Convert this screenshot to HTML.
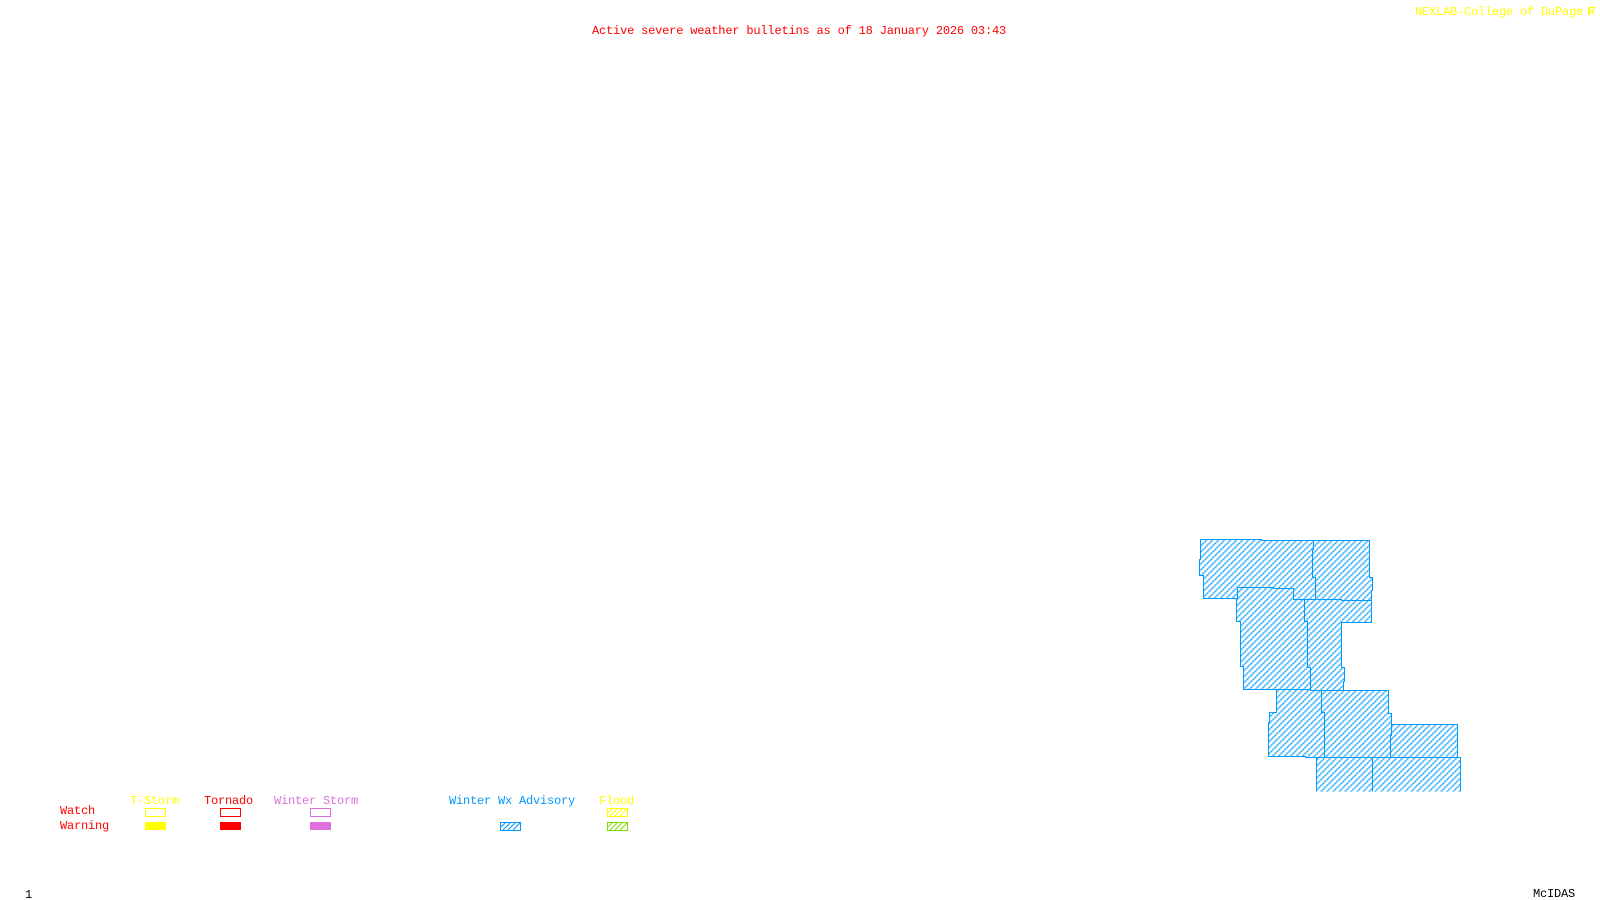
<!DOCTYPE html>
<html><head><meta charset="utf-8"><style>
html,body{margin:0;padding:0;background:#fff;width:1600px;height:900px;overflow:hidden}
svg{display:block}
text{font-family:"Liberation Mono","DejaVu Sans Mono",monospace;font-size:12px;letter-spacing:-.2px;white-space:pre}
</style></head><body>
<svg width="1600" height="900" viewBox="0 0 1600 900" xmlns="http://www.w3.org/2000/svg">
<defs>
<pattern id="h" width="6" height="6" patternUnits="userSpaceOnUse">
<g fill="#0099ff" shape-rendering="crispEdges"><rect x="4" y="0" width="2" height="1"/><rect x="4" y="1" width="1" height="1"/><rect x="2" y="2" width="2" height="1"/><rect x="2" y="3" width="1" height="1"/><rect x="0" y="4" width="2" height="1"/><rect x="0" y="5" width="1" height="1"/></g>
</pattern>
<clipPath id="c"><rect x="0" y="0" width="1600" height="791"/></clipPath>
</defs>
<rect width="1600" height="900" fill="#fff"/>
<g clip-path="url(#c)" transform="translate(.5 .5)" fill="url(#h)" stroke="#0099ff" stroke-width="1" shape-rendering="crispEdges">
<path d="M1200 539H1261V540H1313V549H1312V577H1315V599H1293V588H1273V587H1237V598H1203V575H1199V559H1200Z"/>
<path d="M1313 540H1369V577H1372V590H1371V600H1341V599H1315V577H1312V549H1313Z"/>
<path d="M1237 587H1273V588H1293V599H1304V621H1307V667H1310V689H1243V666H1240V621H1236V598H1237Z"/>
<path d="M1304 599H1341V600H1371V622H1341V667H1344V681H1343V690H1310V667H1307V621H1304Z"/>
<path d="M1276 689H1310V690H1321V712H1324V757H1305V756H1268V722H1269V712H1276Z"/>
<path d="M1321 690H1388V713H1391V735H1390V757H1324V712H1321Z"/>
<path d="M1391 724H1457V757H1390V735H1391Z"/>
<path d="M1316 757H1372V800H1316Z"/>
<path d="M1372 757H1460V800H1372Z"/>
</g>
<g shape-rendering="crispEdges">
<rect x="145.500" y="808.500" width="20" height="8" fill="none" stroke="#ffff00"/>
<rect x="145" y="822" width="21" height="8" fill="#ffff00"/>
<rect x="220.500" y="808.500" width="20" height="8" fill="none" stroke="#ff0000"/>
<rect x="220" y="822" width="21" height="8" fill="#ff0000"/>
<rect x="310.500" y="808.500" width="20" height="8" fill="none" stroke="#dd70dd"/>
<rect x="310" y="822" width="21" height="8" fill="#dd70dd"/>
<rect x="500.500" y="822.500" width="20" height="8" fill="none" stroke="#0099ff"/>
<rect x="607.500" y="808.500" width="20" height="8" fill="none" stroke="#ffff00"/>
<rect x="607.500" y="822.500" width="20" height="8" fill="none" stroke="#80dd00"/>
</g>
<g fill="none" stroke-width="1">
<path stroke="#0099ff" d="M503 830l8-8M508 830l8-8M513 830l8-8M501 827l5-5"/>
<path stroke="#ffff00" d="M610 816l8-8M615 816l8-8M620 816l7-7M608 813l5-5"/>
<path stroke="#80dd00" d="M610 830l8-8M615 830l8-8M620 830l7-7M608 827l5-5"/>
</g>
<text x="592" y="34" fill="#ff0000" textLength="414">Active severe weather bulletins as of 18 January 2026 03:43</text>
<text x="1415" y="15" fill="#ffff00" textLength="168">NEXLAB-College of DuPage</text>
<text x="1588" y="15" fill="#ffff00">R</text>
<path d="M1588 7.500H1595M1588.500 7V15" stroke="#ffff00" fill="none"/>
<text x="130" y="804" fill="#ffff00" textLength="49">T-Storm</text>
<text x="204" y="804" fill="#ff0000" textLength="49">Tornado</text>
<text x="274" y="804" fill="#dd70dd" textLength="84">Winter Storm</text>
<text x="449" y="804" fill="#0099ff" textLength="126">Winter Wx Advisory</text>
<text x="599" y="804" fill="#ffff00" textLength="35">Flood</text>
<text x="60" y="814" fill="#ff0000" textLength="35">Watch</text>
<text x="60" y="829" fill="#ff0000" textLength="49">Warning</text>
<text x="25" y="898" fill="#000">1</text>
<text x="1533" y="897" fill="#000" textLength="42">McIDAS</text>
</svg>
</body></html>
